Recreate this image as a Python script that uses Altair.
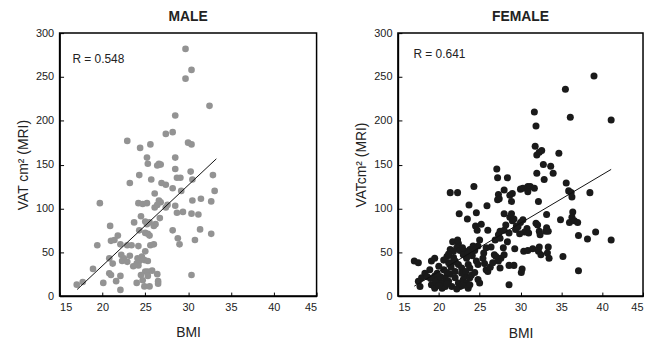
import altair as alt
import pandas as pd

FONT = "Liberation Sans"

x_ticks = [15, 20, 25, 30, 35, 40, 45]
y_ticks = [0, 50, 100, 150, 200, 250, 300]

male_pts = [
    (29.7, 282), (30.4, 258), (29.7, 248), (32.5, 217), (28.5, 206), (27.4, 185), (28.2, 187),
    (22.9, 177), (24.4, 169), (25.6, 173), (30.0, 175), (30.4, 173), (25.2, 158), (28.5, 158),
    (25.3, 151), (26.4, 149), (26.6, 151), (26.8, 150), (28.5, 145), (30.3, 142), (24.3, 138),
    (28.7, 135), (29.1, 135), (32.9, 138), (30.5, 133), (23.2, 129), (25.7, 133), (26.9, 129),
    (27.4, 127), (28.2, 123), (29.2, 120), (33.1, 120), (26.1, 117), (24.2, 106), (24.7, 105),
    (25.2, 106), (19.7, 106), (26.6, 109), (26.8, 107), (26.1, 101), (26.4, 104), (27.4, 101),
    (27.6, 104), (28.5, 103), (30.5, 109), (31.5, 111), (32.7, 108), (29.4, 96), (28.7, 95),
    (30.4, 94), (31.2, 93), (24.5, 91), (26.7, 89), (23.7, 84), (25.0, 85), (25.2, 82),
    (25.5, 84), (26.0, 80), (26.2, 82), (20.9, 80), (28.2, 75), (31.4, 76), (32.7, 71),
    (24.3, 75), (25.0, 72), (25.3, 71), (21.8, 69), (21.0, 63), (21.4, 64), (25.5, 69),
    (28.8, 66), (30.8, 64), (22.1, 59), (22.9, 58), (23.4, 58), (19.4, 58), (25.6, 58),
    (26.0, 59), (29.0, 59), (24.2, 57), (25.0, 51), (24.6, 45), (22.2, 47), (22.5, 43),
    (23.2, 46), (20.8, 43), (21.2, 37), (22.3, 40), (22.9, 39), (24.1, 43), (24.3, 40),
    (24.9, 41), (25.3, 40), (24.0, 37), (24.2, 35), (23.6, 34), (18.9, 31), (20.8, 26),
    (21.0, 24), (22.1, 23), (25.8, 29), (25.0, 28), (25.3, 28), (26.4, 25), (24.5, 24),
    (21.6, 17), (20.1, 15), (24.0, 15), (24.7, 18), (26.5, 17), (26.5, 14), (30.4, 24),
    (24.9, 11), (25.5, 11), (22.1, 7), (17.0, 13), (17.7, 16), (25.3, 23),
]
male_bmi = [p[0] for p in male_pts]
male_vat = [p[1] for p in male_pts]

female_pts = [
    # upper / right part
    (39.0, 251), (35.5, 236), (36.1, 204), (41.1, 201), (31.7, 210), (31.9, 194), (31.8, 171),
    (32.0, 161), (32.3, 164), (32.6, 166), (34.7, 163), (32.8, 150), (33.7, 148), (34.0, 140),
    (27.1, 145), (27.2, 135), (28.4, 135), (32.0, 140), (32.9, 133), (35.6, 129), (24.3, 125),
    (28.0, 121), (29.0, 117), (28.7, 115), (27.3, 116), (27.4, 111), (21.4, 118), (22.3, 118),
    (30.0, 122), (30.3, 123), (30.9, 125), (31.2, 125), (31.7, 123), (30.9, 119), (35.9, 120),
    (36.2, 118), (36.3, 113), (38.5, 118), (28.9, 108), (32.2, 108), (33.2, 93), (36.4, 96),
    (36.3, 90), (34.9, 87), (28.7, 90), (29.0, 86), (28.6, 72), (29.4, 76), (29.7, 79),
    (30.0, 84), (30.3, 87), (30.8, 77), (31.9, 83), (32.1, 81), (33.2, 78), (33.4, 74),
    (33.1, 74), (32.3, 74), (32.4, 70), (36.0, 84), (36.6, 86), (37.0, 84), (29.3, 54),
    (30.4, 51), (30.9, 52), (31.5, 54), (32.3, 56), (32.2, 51), (33.4, 56), (33.3, 49),
    (33.5, 43), (32.5, 47), (37.1, 69), (38.2, 65), (39.2, 73), (41.1, 64), (35.2, 45),
    (37.1, 29), (30.2, 31), (30.1, 27), (28.6, 35), (29.2, 35), (28.6, 13), (28.4, 62),
    # dense lower-left part
    (23.7, 104), (25.9, 103), (22.5, 94), (24.6, 95), (23.5, 88), (27.2, 110), (28.0, 94),
    (24.5, 80), (25.2, 82), (24.7, 75), (26.0, 75), (27.5, 74), (27.3, 70), (28.2, 81),
    (28.0, 75), (25.0, 64), (24.8, 57), (22.4, 60), (22.2, 55), (22.6, 52), (21.4, 53),
    (21.8, 51), (23.2, 51), (23.8, 53), (24.2, 57), (25.8, 55), (25.5, 49), (25.4, 43),
    (26.8, 47), (27.6, 43), (28.0, 47), (21.0, 45), (21.2, 38), (21.5, 33), (17.0, 40),
    (17.5, 38), (19.1, 40), (19.5, 43), (18.9, 30), (22.0, 40), (22.4, 36), (22.8, 32),
    (23.4, 43), (23.6, 36), (23.8, 32), (24.6, 40), (24.8, 36), (25.8, 30), (26.0, 28),
    (27.3, 40), (27.5, 32), (18.3, 26), (17.9, 21), (17.5, 17), (17.7, 11), (19.5, 23),
    (19.9, 19), (20.4, 15), (20.8, 21), (21.2, 17), (21.6, 11), (21.4, 25), (22.0, 21),
    (22.4, 15), (22.6, 11), (22.2, 8), (23.0, 19), (23.4, 15), (23.6, 9), (23.2, 23),
    (24.8, 19), (25.0, 15), (23.8, 21), (19.1, 13), (19.5, 9), (20.4, 9), (20.8, 11),
    (19.0, 20), (19.6, 16), (20.2, 22), (20.6, 30), (21.0, 27), (20.0, 34), (21.6, 38),
    (22.0, 28), (22.8, 26), (23.3, 28), (24.0, 24), (24.4, 27), (23.0, 47), (23.6, 49),
    (24.1, 46), (21.8, 44), (20.6, 41), (21.2, 48), (21.7, 62), (22.3, 64), (22.9, 55),
    (24.4, 52), (19.8, 26), (18.6, 22), (20.0, 12), (21.0, 14), (22.9, 12), (23.8, 13),
    (25.6, 37), (26.3, 33), (26.6, 38), (27.0, 45), (29.5, 80), (28.9, 94), (29.2, 88),
    (30.5, 73), (31.0, 72), (29.9, 71), (26.9, 64), (27.5, 66), (26.4, 56), (27.9, 55),
]
female_bmi = [p[0] for p in female_pts]
female_vat = [p[1] for p in female_pts]

male_fit_bmi = [17.05, 33.3]
male_fit_vat = [7.5, 156.6]
female_fit_bmi = [17.0, 41.1]
female_fit_vat = [11.3, 144.5]

male_r = ["R = 0.548"]
female_r = ["R = 0.641"]


def panel(bmi, vat, fit_x, fit_y, color, size, title, ytitle, r_label, r_x, r_y, w, h, xt_pad):
    pts = pd.DataFrame({"BMI": bmi, "VAT": vat})
    fit = pd.DataFrame({"BMI": fit_x, "VAT": fit_y})
    ann = pd.DataFrame({"BMI": [r_x], "VAT": [r_y], "label": r_label})
    xs = alt.Scale(domain=[15, 45], nice=False, zero=False)
    ys = alt.Scale(domain=[0, 300], nice=False)
    points = alt.Chart(pts).mark_circle(color=color, size=size, opacity=1).encode(
        x=alt.X("BMI:Q", scale=xs, axis=alt.Axis(values=x_ticks, title="BMI", ticks=False, tickSize=0,
                                                  labelPadding=6, titlePadding=xt_pad, grid=False, format="d")),
        y=alt.Y("VAT:Q", scale=ys, axis=alt.Axis(values=y_ticks, title=ytitle, ticks=False, tickSize=0,
                                                  labelPadding=6, titlePadding=5, grid=False, format="d")),
    )
    line = alt.Chart(fit).mark_line(color="#111", strokeWidth=1).encode(
        x=alt.X("BMI:Q", scale=xs, axis=alt.Axis(orient="top", offset=-h, values=x_ticks, labels=False,
                                                  domain=False, ticks=True, tickSize=4, title=None, grid=False)),
        y=alt.Y("VAT:Q", scale=ys, axis=alt.Axis(orient="right", offset=-w, values=y_ticks, labels=False,
                                                  domain=False, ticks=True, tickSize=4, title=None, grid=False)),
    )
    text = alt.Chart(ann).mark_text(align="left", baseline="middle", fontSize=12, font=FONT, color="#222").encode(
        x=alt.X("BMI:Q", scale=xs, axis=None),
        y=alt.Y("VAT:Q", scale=ys, axis=None),
        text="label:N",
    )
    return alt.layer(points, line, text).resolve_axis(x="independent", y="independent").properties(
        width=w, height=h,
        title=alt.TitleParams(title, fontSize=14, fontWeight="bold", font=FONT, color="#222", offset=3),
    )


male = panel(male_bmi, male_vat, male_fit_bmi, male_fit_vat, "#939393", 45, "MALE", "VAT cm² (MRI)",
             male_r, 16.5, 271, 259, 265, 13)
female = panel(female_bmi, female_vat, female_fit_bmi, female_fit_vat, "#1a1a1a", 50, "FEMALE", "VATcm² (MRI)",
               female_r, 16.9, 276, 247, 265, 14)

chart = alt.hconcat(male, female, spacing=35).properties(
    padding={"left": 7, "top": 0, "right": 0, "bottom": 0}
).configure_view(stroke="#000", strokeWidth=1.5).configure_axis(
    domainColor="#000", domainWidth=1.5, tickColor="#000", tickWidth=1,
    labelFont=FONT, labelFontSize=11, labelColor="#222",
    titleFont=FONT, titleFontSize=14, titleFontWeight="normal", titleColor="#222",
)

chart.save("out.html", embed_options={"renderer": "svg", "actions": False})
